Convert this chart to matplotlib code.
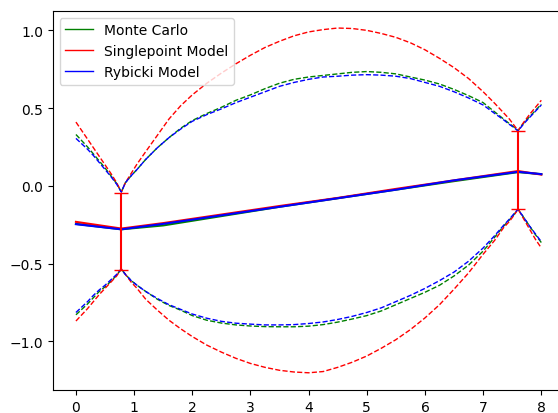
import matplotlib
matplotlib.use('Agg')
import matplotlib.pyplot as plt
import numpy as np

# sample positions for the band edges
x_band = [0, 0.1, 0.2, 0.3, 0.4, 0.5, 0.6, 0.7, 0.78,
          0.85, 0.95, 1.05, 1.2, 1.4, 1.6, 1.8, 2.0,
          2.25, 2.5, 2.75, 3.0, 3.25, 3.5, 3.75, 4.0,
          4.25, 4.5, 4.75, 5.0, 5.25, 5.5, 5.75, 6.0,
          6.25, 6.5, 6.75, 7.0, 7.2, 7.35, 7.45, 7.53, 7.6,
          7.7, 7.8, 7.9, 8.0]

# Monte Carlo
mc_upper = [0.33, 0.29, 0.25, 0.205, 0.16, 0.115, 0.065, 0.015, -0.04,
            0.02, 0.065, 0.105, 0.17, 0.245, 0.31, 0.37, 0.42,
            0.465, 0.505, 0.55, 0.585, 0.625, 0.66, 0.685, 0.70,
            0.71, 0.72, 0.73, 0.735, 0.73, 0.72, 0.70, 0.68,
            0.655, 0.62, 0.58, 0.535, 0.475, 0.43, 0.40, 0.378, 0.355,
            0.405, 0.445, 0.485, 0.525]
mc_lower = [-0.83, -0.795, -0.76, -0.72, -0.68, -0.65, -0.615, -0.575, -0.535,
            -0.57, -0.61, -0.64, -0.68, -0.73, -0.77, -0.80, -0.835,
            -0.865, -0.883, -0.895, -0.902, -0.906, -0.907, -0.907, -0.903,
            -0.893, -0.877, -0.857, -0.835, -0.805, -0.765, -0.725, -0.685,
            -0.64, -0.58, -0.51, -0.42, -0.33, -0.26, -0.22, -0.185, -0.15,
            -0.205, -0.26, -0.315, -0.365]

# Singlepoint model
sp_upper = [0.41, 0.355, 0.30, 0.245, 0.19, 0.135, 0.08, 0.02, -0.04,
            0.02, 0.08, 0.14, 0.22, 0.325, 0.43, 0.515, 0.585,
            0.66, 0.725, 0.785, 0.84, 0.89, 0.93, 0.965, 0.99,
            1.005, 1.015, 1.012, 1.0, 0.98, 0.955, 0.92, 0.875,
            0.82, 0.76, 0.69, 0.605, 0.53, 0.47, 0.43, 0.39, 0.355,
            0.41, 0.46, 0.505, 0.55]
sp_lower = [-0.87, -0.83, -0.79, -0.745, -0.70, -0.66, -0.62, -0.58, -0.535,
            -0.57, -0.62, -0.66, -0.73, -0.80, -0.865, -0.92, -0.97,
            -1.025, -1.07, -1.11, -1.143, -1.168, -1.187, -1.198, -1.203,
            -1.195, -1.168, -1.135, -1.095, -1.045, -0.99, -0.925, -0.85,
            -0.765, -0.665, -0.56, -0.44, -0.35, -0.27, -0.23, -0.19, -0.15,
            -0.215, -0.28, -0.345, -0.40]

# Rybicki model
ry_upper = [0.305, 0.27, 0.235, 0.195, 0.15, 0.105, 0.06, 0.01, -0.04,
            0.02, 0.065, 0.105, 0.17, 0.245, 0.31, 0.365, 0.415,
            0.458, 0.495, 0.535, 0.57, 0.605, 0.64, 0.665, 0.685,
            0.70, 0.705, 0.712, 0.715, 0.712, 0.705, 0.69, 0.665,
            0.64, 0.605, 0.565, 0.52, 0.465, 0.425, 0.395, 0.375, 0.352,
            0.40, 0.44, 0.48, 0.52]
ry_lower = [-0.815, -0.78, -0.745, -0.705, -0.67, -0.64, -0.605, -0.57, -0.535,
            -0.57, -0.61, -0.64, -0.68, -0.725, -0.765, -0.795, -0.825,
            -0.852, -0.872, -0.884, -0.89, -0.895, -0.895, -0.893, -0.886,
            -0.876, -0.86, -0.84, -0.815, -0.785, -0.745, -0.705, -0.66,
            -0.61, -0.555, -0.485, -0.40, -0.32, -0.255, -0.215, -0.18, -0.15,
            -0.205, -0.26, -0.31, -0.36]

# central lines
x_mid = [0, 0.78, 1.5, 2.5, 3.5, 4.5, 5.5, 6.5, 7.6, 8.0]
mc_mid = [-0.245, -0.28, -0.255, -0.195, -0.135, -0.08, -0.025, 0.03, 0.088, 0.075]
sp_mid = [-0.232, -0.275, -0.24, -0.185, -0.13, -0.078, -0.02, 0.035, 0.095, 0.072]
ry_mid = [-0.247, -0.28, -0.245, -0.19, -0.135, -0.08, -0.025, 0.035, 0.09, 0.075]

# error bars at the cusps
err_x = [0.78, 7.6]
err_lo = [-0.54, -0.15]
err_hi = [-0.045, 0.355]

fig = plt.figure(figsize=(5.58, 4.14), dpi=100)
ax = fig.add_axes([0.0944, 0.0555, 0.9174, 0.916])

series = [
    ('Monte Carlo', 'g', mc_mid, mc_upper, mc_lower),
    ('Singlepoint Model', 'r', sp_mid, sp_upper, sp_lower),
    ('Rybicki Model', 'b', ry_mid, ry_upper, ry_lower),
]
for name, col, mid, up, lo in series:
    ax.plot(x_mid, mid, '-', color=col, lw=1.5, label=name)
    ax.plot(x_band, up, '--', color=col, lw=1)
    ax.plot(x_band, lo, '--', color=col, lw=1)

err_lo = np.array(err_lo)
err_hi = np.array(err_hi)
err_c = (err_lo + err_hi) / 2
ax.errorbar(err_x, err_c, yerr=[err_c - err_lo, err_hi - err_c], fmt='none',
            ecolor='r', elinewidth=1.5, capsize=5)

ax.set_xticks(range(0, 9))
ax.set_yticks([-1.0, -0.5, 0.0, 0.5, 1.0])
leg = ax.legend(loc='upper left')
for line in leg.get_lines():
    line.set_linewidth(1)

fig.savefig('out.png', dpi=100)
